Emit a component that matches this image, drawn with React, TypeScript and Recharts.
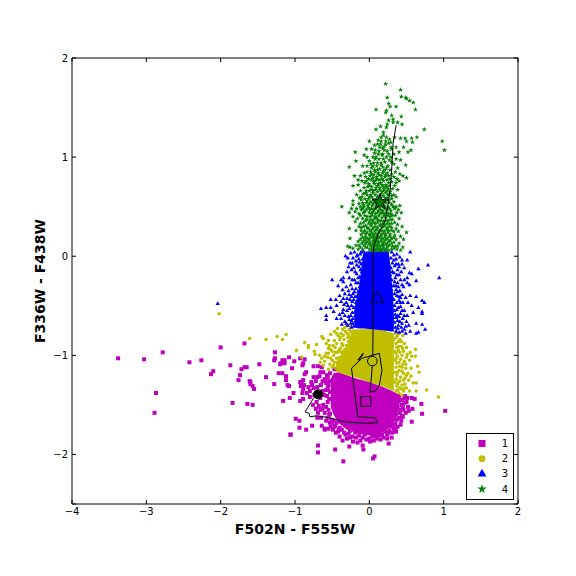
import { Area, ComposedChart, Legend, ReferenceArea, Scatter, Symbols, XAxis, YAxis } from "recharts";

const xTicks = [-4, -3, -2, -1, 0, 1, 2];
const yTicks = [-2.5, -2, -1, 0, 1, 2];

// scatter, [F502N-F555W, F336W-F438W]
const group1 = [
  [-3.38,-1.03],[-3.03,-1.04],[-2.78,-0.97],[-2.42,-1.07],[-2.26,-1.05],[-2.10,-1.16],[-2.13,-1.19],[-2.00,-0.92],[-2.87,-1.38],[-2.89,-1.58],
  [-1.87,-1.10],[-1.84,-1.48],[-1.68,-0.88],[-1.72,-1.14],[-1.68,-1.12],[-1.65,-1.12],[-1.74,-1.20],[-1.76,-1.25],[-1.61,-1.26],[-1.60,-1.27],
  [-1.60,-1.29],[-1.57,-1.31],[-1.55,-1.34],[-1.64,-1.49],[-1.57,-1.50],[-1.48,-1.09],[-1.39,-1.22],[-1.28,-1.05],[-1.27,-1.03],[-1.27,-0.97],
  [-1.20,-1.09],[-1.17,-1.05],[-1.14,-1.05],[-1.14,-1.08],[-1.08,-1.02],[-1.22,-1.18],[-1.17,-1.18],[-1.12,-1.21],[-1.12,-1.25],[-1.28,-1.29],
  [-1.10,-1.30],[-1.08,-1.31],[-1.16,-1.46],[-1.07,-1.43],[-1.06,-1.80],[-1.19,-1.08],[-1.02,-1.38],[-1.01,-1.06],[-0.93,-1.03],[-0.87,-1.04],
  [-0.89,-1.08],[-0.90,-1.10],[-0.75,-1.11],[-1.04,-1.13],[-0.85,-1.17],[-0.87,-1.19],[-0.93,-1.27],[-0.91,-1.27],[-0.89,-1.25],[-0.88,-1.30],
  [-0.92,-1.31],[-0.89,-1.34],[-0.90,-1.38],[-0.89,-1.44],[-0.93,-1.46],[-0.82,-1.32],[-0.78,-1.27],[-0.75,-1.22],[-0.77,-1.30],[-0.70,-1.22],
  [-0.66,-1.17],[-0.62,-1.17],[-0.64,-1.12],[-0.69,-1.11],[-0.99,-1.64],[-0.94,-1.66],[-0.94,-1.73],[-0.85,-1.75],[-1.06,-1.80],[-0.77,-1.71],
  [-0.70,-1.63],[-0.64,-1.71],[-0.60,-1.74],[-0.60,-1.75],[-0.55,-1.74],[-0.52,-1.72],[-0.47,-1.72],[-0.69,-1.91],[-0.69,-1.98],[-0.46,-1.95],
  [-0.35,-2.07],[-0.27,-1.92],[-0.09,-1.91],[-0.08,-1.95],[0.07,-2.02],[0.05,-2.04],[0.26,-1.89],[0.36,-1.77],[0.31,-1.78],[0.24,-1.80],
  [0.17,-1.80],[0.57,-1.67],[0.71,-1.59],[0.70,-1.49],[0.58,-1.54],[0.45,-1.52],[0.46,-1.55],[0.41,-1.58],[0.38,-1.72],[0.51,-1.43],
  [0.57,-1.43],[0.61,-1.44],[1.02,-1.56],[-0.68,-1.51],[-0.66,-1.55],[-0.62,-1.50],[-0.72,-1.54],[-0.60,-1.58],[-0.56,-1.47],[-0.58,-1.35],
  [-0.55,-1.30],[-0.61,-1.40],[-0.65,-1.30],[-0.60,-1.24],[-0.56,-1.22],[-0.70,-1.32],[-0.74,-1.40],[-0.80,-1.42],[-0.54,-1.60],[-0.51,-1.65],
  [-0.45,-1.78],[-0.40,-1.82],[-0.36,-1.86],[-0.42,-1.77],[-0.30,-1.84],[-0.22,-1.87],[-0.18,-1.83],[-0.12,-1.86],[-0.04,-1.85],[0.01,-1.87],
  [0.06,-1.86],[0.10,-1.84],[-0.28,-1.79],[0.43,-1.66],[0.44,-1.61],[0.40,-1.46],[0.47,-1.43],[0.39,-1.41],[0.42,-1.70],[0.33,-1.74],
  [0.50,-1.47],[0.53,-1.56],[-0.53,-1.18],[-0.47,-1.14],[-0.58,-1.28],[-0.50,-1.68],[-0.44,-1.68],
  [-0.57,-1.20],[-0.59,-1.26],[-0.54,-1.26],[-0.56,-1.33],[-0.53,-1.37],[-0.57,-1.41],[-0.54,-1.44],[-0.58,-1.52],[-0.55,-1.55],[-0.56,-1.63],
  [-0.53,-1.59],[-0.63,-1.26],[-0.67,-1.21],[-0.63,-1.36],[-0.66,-1.43],[-0.63,-1.54],[-0.71,-1.47],[-0.75,-1.33],[-0.80,-1.36],[-0.72,-1.26],
  [-0.84,-1.38],[-0.76,-1.50],[-0.69,-1.58],[-0.65,-1.63],[-0.58,-1.66],[-0.53,-1.68],[-0.48,-1.66],[-0.46,-1.71],[-0.40,-1.73],[-0.37,-1.75],
  [-0.34,-1.78],[-0.26,-1.76],[-0.23,-1.82],[-0.19,-1.78],[-0.14,-1.81],[-0.09,-1.83],[-0.06,-1.80],[0.00,-1.84],[0.04,-1.82],[0.08,-1.81],
  [0.13,-1.81],[0.19,-1.83],[0.21,-1.77],[0.27,-1.76],[0.30,-1.72],[0.35,-1.69],[0.37,-1.65],[0.40,-1.63],[0.42,-1.55],[0.38,-1.53],
  [0.43,-1.50],[0.47,-1.48],[0.40,-1.43],[0.44,-1.45],[0.48,-1.41],[0.36,-1.60],[0.33,-1.70],[0.26,-1.78],[0.15,-1.85],[-0.16,-1.88],
  [-0.26,-1.83],[-0.32,-1.80],[-0.41,-1.75],[-0.49,-1.75],[0.24,-1.84],[0.30,-1.83],[0.35,-1.74],[0.49,-1.58],[0.45,-1.62],[0.52,-1.52],
];

const group2 = [
  [-2.02,-0.58],[-1.61,-0.83],[-1.39,-0.84],[-1.24,-0.81],[-1.17,-0.84],[-1.12,-0.79],[-0.87,-0.87],[-0.82,-0.90],[-0.82,-0.92],[-0.71,-0.89],
  [-0.98,-0.95],[-0.74,-0.96],[-0.73,-0.99],[-0.64,-0.81],[-0.62,-0.83],[-0.55,-0.85],[-0.54,-0.90],[-0.91,-1.02],[0.93,-1.42],[0.77,-1.35],
  [0.67,-1.17],[0.65,-1.11],[0.62,-0.94],[0.62,-1.01],[0.57,-1.01],[0.63,-1.28],[0.59,-1.28],[0.63,-1.36],[0.54,-1.36],[0.50,-1.33],
  [-0.67,-1.00],[-0.64,-1.03],[-0.60,-1.06],[-0.66,-1.07],[-0.58,-0.98],[-0.56,-1.02],[-0.53,-1.09],[-0.50,-1.12],[-0.55,-1.14],[-0.62,-1.10],
  [-0.48,-1.00],[-0.50,-0.96],[-0.46,-0.92],[-0.52,-0.94],[-0.44,-0.88],[-0.40,-0.84],[-0.47,-0.85],[-0.42,-0.80],[-0.38,-0.78],[-0.36,-0.74],
  [-0.43,-0.73],[-0.47,-0.76],[-0.33,-0.72],[-0.30,-0.78],[-0.34,-0.84],[-0.37,-0.88],[-0.41,-0.95],[-0.44,-1.03],[-0.42,-1.10],[-0.47,-1.07],
  [-0.39,-0.93],[-0.35,-0.96],[-0.30,-0.70],[-0.27,-0.74],[-0.29,-0.82],[-0.52,-0.79],[-0.58,-0.88],[-0.36,-0.90],[-0.40,-1.02],[-0.46,-0.97],
  [0.35,-0.78],[0.38,-0.80],[0.41,-0.84],[0.45,-0.80],[0.39,-0.86],[0.43,-0.91],[0.47,-0.88],[0.50,-0.92],[0.37,-0.92],[0.41,-0.97],
  [0.46,-0.96],[0.51,-0.99],[0.38,-1.01],[0.42,-1.04],[0.47,-1.06],[0.37,-1.08],[0.44,-1.12],[0.49,-1.13],[0.40,-1.15],[0.46,-1.18],
  [0.37,-1.20],[0.42,-1.22],[0.48,-1.23],[0.39,-1.27],[0.44,-1.30],[0.37,-1.31],[0.41,-1.33],[0.48,-1.29],[0.53,-1.25],[0.36,-1.36],
  [0.46,-1.36],[0.40,-1.38],[0.44,-1.40],[0.54,-1.05],[0.52,-1.18],[0.33,-0.84],[0.34,-0.96],[0.35,-1.05],[0.34,-1.17],[0.34,-1.27],
  [-0.25,-0.76],[-0.28,-0.86],[-0.31,-0.90],[-0.33,-0.94],[-0.30,-0.97],[-0.36,-1.00],[-0.33,-1.03],[-0.38,-1.05],[-0.36,-1.09],[-0.40,-1.12],
  [-0.45,-1.13],[-0.43,-1.07],[-0.48,-1.10],[-0.38,-0.97],[-0.32,-0.76],[-0.26,-0.82],[-0.43,-0.97],[-0.50,-1.05],[-0.55,-0.98],[-0.60,-1.01],
  [-0.52,-1.03],[-0.35,-0.80],[-0.39,-0.82],[-0.44,-0.78],[-0.49,-0.90],[-0.55,-0.93],[-0.25,-0.71],[-0.28,-0.79],
  [0.36,-0.82],[0.40,-0.78],[0.43,-0.86],[0.36,-0.88],[0.40,-0.91],[0.45,-0.93],[0.36,-0.98],[0.39,-0.95],[0.44,-1.00],[0.36,-1.03],
  [0.40,-1.07],[0.45,-1.09],[0.36,-1.12],[0.41,-1.11],[0.38,-1.17],[0.44,-1.16],[0.36,-1.24],[0.41,-1.26],[0.46,-1.25],[0.38,-1.29],
  [0.43,-1.34],[0.38,-1.35],[0.50,-1.02],[0.49,-1.09],[0.50,-1.20],[0.47,-1.33],[0.55,-0.97],[0.56,-1.13],[0.56,-1.21],
];

const group3 = [
  [-2.04,-0.48],[0.94,-0.22],[0.79,-0.09],[0.66,-0.13],[0.63,-0.25],[0.55,0.04],[0.44,-0.04],[0.44,-0.08],[0.51,-0.04],[0.54,-0.17],
  [0.57,-0.18],[0.51,-0.22],[0.51,-0.27],[0.46,-0.31],[0.54,-0.29],[0.71,-0.45],[0.74,-0.47],[0.71,-0.56],[0.71,-0.58],[0.66,-0.52],
  [0.63,-0.41],[0.59,-0.57],[0.63,-0.68],[0.71,-0.69],[0.75,-0.74],[0.66,-0.77],[0.63,-0.78],[-0.50,-0.24],[-0.32,0.00],[-0.30,-0.16],
  [-0.38,-0.24],[-0.35,-0.22],[-0.35,-0.26],[-0.40,-0.40],[-0.52,-0.44],[-0.65,-0.53],[-0.58,-0.52],[-0.52,-0.52],[-0.48,-0.56],[-0.58,-0.60],
  [-0.58,-0.64],[-0.40,-0.59],[-0.38,-0.63],[-0.36,-0.57],[-0.35,-0.43],[-0.38,-0.46],[-0.30,-0.43],[-0.34,-0.49],[-0.30,-0.55],[-0.28,-0.61],
  [-0.33,-0.66],[-0.25,-0.68],[-0.29,-0.70],[-0.37,-0.69],[-0.28,-0.35],[-0.25,-0.29],[-0.27,-0.22],[-0.24,-0.14],[-0.26,-0.07],[-0.22,-0.02],
  [-0.25,0.03],[-0.20,0.04],[-0.18,-0.05],[-0.21,-0.12],[-0.17,-0.18],[-0.20,-0.24],[-0.15,-0.27],[-0.18,-0.33],[-0.22,-0.38],[-0.16,-0.40],
  [-0.21,-0.44],[-0.24,-0.50],[-0.18,-0.47],[-0.14,-0.03],[-0.12,0.02],[-0.14,-0.11],[-0.10,-0.16],[-0.13,-0.21],[-0.09,-0.25],[-0.11,-0.08],
  [-0.16,-0.55],[-0.23,-0.57],[-0.26,-0.44],[-0.22,-0.63],[-0.12,-0.36],[-0.08,0.05],[-0.09,-0.19],
  [0.30,0.04],[0.33,0.01],[0.36,-0.03],[0.31,-0.07],[0.34,-0.10],[0.38,-0.14],[0.31,-0.16],[0.40,-0.19],[0.35,-0.22],[0.30,-0.24],
  [0.38,-0.27],[0.42,-0.24],[0.33,-0.30],[0.36,-0.34],[0.41,-0.35],[0.44,-0.39],[0.37,-0.40],[0.33,-0.44],[0.40,-0.45],[0.45,-0.47],
  [0.34,-0.50],[0.42,-0.51],[0.37,-0.54],[0.47,-0.55],[0.42,-0.58],[0.51,-0.60],[0.38,-0.60],[0.45,-0.63],[0.41,-0.66],[0.50,-0.66],
  [0.53,-0.70],[0.43,-0.72],[0.47,-0.74],[0.39,-0.70],[0.36,-0.62],[0.40,-0.77],[0.55,-0.76],[0.49,-0.78],[0.30,-0.30],[0.31,-0.38],
  [0.29,-0.46],[0.49,-0.42],[0.52,-0.47],[0.43,-0.16],[0.47,-0.12],[0.39,-0.08],[0.37,0.02],[0.41,-0.01],[0.57,-0.50],[0.55,-0.40],
  [-0.11,0.04],[-0.16,0.01],[-0.09,-0.03],[-0.13,-0.06],[-0.17,-0.09],[-0.08,-0.11],[-0.12,-0.14],[-0.07,-0.20],[-0.15,-0.22],[-0.11,-0.24],
  [-0.18,-0.27],[-0.07,-0.29],[-0.13,-0.31],[-0.20,-0.36],[-0.09,-0.33],[-0.15,-0.36],[-0.11,-0.40],[-0.24,-0.41],[-0.19,-0.41],[-0.14,-0.45],
  [-0.23,-0.46],[-0.16,-0.49],[-0.21,-0.52],[-0.27,-0.53],[-0.19,-0.56],[-0.25,-0.60],[-0.19,-0.60],[-0.24,-0.65],[-0.18,-0.66],[-0.27,-0.64],
  [-0.22,-0.68],[-0.24,-0.72],[-0.31,-0.68],[-0.21,-0.71],[-0.31,-0.47],[-0.29,-0.50],[-0.33,-0.38],[-0.27,-0.39],[-0.31,-0.31],[-0.23,-0.33],
  [-0.23,-0.24],[-0.28,-0.11],[-0.19,-0.16],[-0.23,-0.07],[-0.17,0.00],[-0.29,-0.02],[-0.36,-0.34],[-0.42,-0.30],[-0.44,-0.50],[-0.35,-0.54],
  [-0.44,-0.63],[-0.45,-0.44],[-0.33,-0.60],
  [0.29,-0.02],[0.27,-0.10],[0.33,-0.04],[0.29,-0.12],[0.36,-0.08],[0.28,-0.19],[0.33,-0.17],[0.37,-0.19],[0.28,-0.27],[0.34,-0.26],
  [0.39,-0.31],[0.30,-0.34],[0.36,-0.30],[0.34,-0.38],[0.40,-0.41],[0.31,-0.42],[0.37,-0.47],[0.30,-0.49],[0.42,-0.47],[0.34,-0.55],
  [0.39,-0.52],[0.31,-0.55],[0.44,-0.55],[0.35,-0.59],[0.32,-0.62],[0.40,-0.61],[0.47,-0.60],[0.38,-0.65],[0.34,-0.67],[0.44,-0.68],
  [0.38,-0.73],[0.44,-0.76],[0.35,-0.72],[0.49,-0.71],[0.36,-0.76],[0.42,-0.42],[0.38,-0.36],[0.44,-0.29],[0.47,-0.24],[0.40,-0.11],
];

const group4 = [
  [0.22,1.74],[0.42,1.68],[0.24,1.60],[0.43,1.61],[0.49,1.60],[0.50,1.59],[0.54,1.57],[0.59,1.55],[0.62,1.48],[0.26,1.54],
  [0.28,1.51],[0.36,1.51],[0.09,1.48],[0.23,1.47],[0.22,1.45],[0.30,1.42],[0.43,1.41],[0.26,1.37],[0.32,1.38],[0.32,1.35],[0.24,1.33],
  [0.38,1.35],[0.44,1.33],[0.74,1.28],[0.98,1.16],[1.01,1.07],[0.09,1.28],[0.15,1.31],[0.23,1.30],[0.19,1.25],[0.19,1.22],
  [0.23,1.20],[0.16,1.20],[0.27,1.18],[0.12,1.17],[0.34,1.20],[0.42,1.19],[0.48,1.19],[0.57,1.19],[0.64,1.20],[0.58,1.15],[0.50,1.16],
  [0.00,1.16],[0.16,1.16],[0.22,1.16],[0.29,1.15],[0.07,1.12],[0.22,1.13],[0.26,1.14],[0.14,1.10],[0.18,1.09],[0.29,1.10],[0.36,1.10],
  [0.46,1.10],[0.56,1.07],[0.52,1.05],[0.40,1.05],[-0.04,1.08],[0.03,1.08],[-0.19,1.05],[0.08,1.07],[0.13,1.06],[0.20,1.07],[0.30,1.08],
  [0.07,1.04],[0.26,1.03],[0.33,1.03],[0.12,1.03],[0.17,1.02],[-0.07,1.02],[-0.03,1.00],[0.09,1.00],[0.19,0.98],[0.29,1.00],[-0.18,0.96],
  [0.00,0.96],[0.08,0.98],[0.13,0.98],[0.21,0.95],[0.27,0.97],[0.36,0.98],[0.42,0.97],[0.49,0.92],[0.06,0.94],[0.11,0.94],[0.16,0.94],
  [-0.27,0.90],[0.10,0.91],[0.18,0.90],[0.25,0.91],[0.33,0.93],[0.38,0.89],[0.03,0.89],[0.14,0.88],[0.21,0.87],[0.28,0.87],[-0.07,0.84],
  [-0.03,0.85],[0.02,0.85],[0.08,0.85],[0.12,0.84],[0.18,0.84],[0.24,0.84],[0.35,0.85],[0.45,0.81],[0.50,0.79],[0.41,0.83],
  [-0.20,0.81],[-0.12,0.81],[-0.05,0.80],[0.01,0.81],[0.06,0.82],[0.10,0.80],[0.16,0.81],[0.21,0.80],[0.26,0.81],[0.33,0.80],[0.37,0.78],
  [-0.10,0.76],[-0.04,0.76],[0.03,0.77],[0.08,0.76],[0.13,0.77],[0.19,0.76],[0.24,0.77],[0.30,0.75],[0.40,0.76],[0.07,0.73],[-0.01,0.73],
  [-0.22,0.71],[-0.15,0.72],[0.12,0.73],[0.17,0.72],[0.22,0.72],[0.27,0.71],[0.34,0.71],[0.03,0.70],[-0.07,0.69],[-0.02,0.70],[0.09,0.69],
  [0.14,0.69],[0.20,0.68],[0.25,0.68],[0.31,0.68],[0.38,0.67],[-0.12,0.66],[0.00,0.66],[0.05,0.66],[0.11,0.65],[0.17,0.65],[0.22,0.64],
  [-0.17,0.62],[-0.08,0.63],[-0.03,0.62],[0.02,0.62],[0.08,0.62],[0.14,0.61],[0.19,0.61],[0.27,0.63],[0.33,0.62],[0.36,0.60],[-0.06,0.58],
  [-0.01,0.58],[0.05,0.58],[0.10,0.58],[0.16,0.57],[0.24,0.59],[0.30,0.58],[-0.22,0.56],[-0.11,0.57],[-0.14,0.53],[-0.09,0.54],[-0.04,0.54],
  [0.02,0.55],[0.07,0.54],[0.12,0.54],[0.22,0.54],[0.27,0.54],[0.33,0.55],[-0.22,0.52],[-0.07,0.50],[-0.02,0.51],[0.04,0.51],[0.09,0.50],
  [0.14,0.49],[0.25,0.50],[0.30,0.52],[0.36,0.50],[0.41,0.51],[-0.37,0.50],[-0.24,0.48],[-0.19,0.45],[-0.11,0.47],[-0.04,0.47],[0.01,0.47],
  [0.06,0.47],[0.12,0.46],[0.18,0.46],[0.23,0.47],[0.29,0.46],[0.34,0.48],[0.39,0.47],[-0.27,0.44],[-0.14,0.43],[-0.08,0.44],[0.03,0.43],
  [0.08,0.43],[0.15,0.43],[0.20,0.43],[0.26,0.43],[0.37,0.44],[0.43,0.44],[-0.22,0.40],[-0.03,0.40],[0.01,0.40],[0.10,0.39],[0.17,0.39],
  [0.22,0.39],[0.28,0.40],[0.35,0.41],[-0.16,0.38],[-0.09,0.38],[-0.05,0.36],[0.05,0.36],[0.13,0.36],[0.19,0.35],[0.25,0.36],[0.31,0.37],
  [0.40,0.38],[-0.19,0.35],[-0.12,0.33],[-0.01,0.33],[0.03,0.33],[0.08,0.33],[0.15,0.32],[0.21,0.32],[0.27,0.33],[0.34,0.34],[0.38,0.32],
  [-0.14,0.30],[-0.08,0.30],[-0.03,0.29],[0.05,0.29],[0.11,0.29],[0.17,0.29],[0.24,0.29],[0.30,0.29],[0.36,0.28],[0.44,0.30],[-0.27,0.28],
  [-0.18,0.26],[-0.11,0.26],[-0.06,0.26],[0.01,0.26],[0.08,0.26],[0.14,0.26],[0.20,0.25],[0.26,0.26],[0.33,0.25],[0.39,0.25],[0.50,0.24],
  [-0.11,0.22],[-0.05,0.22],[0.00,0.22],[0.05,0.22],[0.11,0.22],[0.16,0.22],[0.22,0.22],[0.28,0.22],[0.34,0.21],[0.42,0.20],[-0.26,0.18],
  [-0.09,0.19],[-0.02,0.18],[0.03,0.19],[0.08,0.18],[0.13,0.19],[0.18,0.18],[0.24,0.18],[0.30,0.18],[0.36,0.17],[0.46,0.17],[-0.15,0.15],
  [-0.08,0.15],[-0.03,0.15],[0.05,0.15],[0.10,0.15],[0.15,0.15],[0.20,0.15],[0.26,0.15],[0.33,0.14],[0.40,0.13],[-0.29,0.10],[-0.26,0.09],
  [-0.22,0.08],[-0.14,0.11],[-0.07,0.11],[-0.01,0.12],[0.04,0.12],[0.08,0.11],[0.12,0.12],[0.17,0.11],[0.22,0.12],[0.27,0.11],[0.35,0.10],
  [0.45,0.09],[-0.03,0.09],[0.03,0.09],[0.07,0.08],[0.11,0.09],[0.15,0.08],[0.19,0.09],[0.23,0.08],[0.30,0.07],[0.37,0.07],[0.42,0.06],
  [-0.15,0.07],[0.05,0.07],[0.09,0.06],[0.13,0.06],[0.17,0.06],[0.21,0.06],[0.26,0.06],[0.03,0.06],[-0.09,0.07],
  [0.11,0.87],[0.16,0.92],[0.05,0.91],[0.19,0.86],[0.07,0.87],[0.23,0.89],[0.13,0.82],[0.03,0.83],[0.17,0.78],[0.05,0.79],[0.22,0.82],
  [-0.01,0.78],[0.10,0.78],[0.15,0.74],[0.26,0.74],[0.06,0.75],[0.01,0.71],[-0.06,0.74],[0.19,0.70],[0.23,0.70],[0.11,0.71],[0.28,0.78],
  [-0.04,0.66],[0.03,0.67],[0.08,0.67],[0.14,0.67],[0.19,0.66],[0.24,0.66],[0.28,0.65],[-0.10,0.60],[-0.05,0.64],[0.00,0.60],[0.05,0.64],
  [0.11,0.60],[0.16,0.63],[0.21,0.59],[0.25,0.62],[0.30,0.61],[-0.13,0.59],[-0.03,0.56],[0.03,0.60],[0.08,0.56],[0.13,0.57],[0.18,0.55],
  [0.26,0.57],[-0.08,0.52],[-0.12,0.50],[0.00,0.53],[0.05,0.53],[0.10,0.52],[0.20,0.51],[0.27,0.48],[0.32,0.50],[-0.17,0.48],[-0.09,0.48],
  [-0.01,0.49],[0.03,0.48],[0.08,0.48],[0.15,0.47],[0.21,0.49],[-0.06,0.45],[0.00,0.44],[0.05,0.45],[0.11,0.44],[0.17,0.44],[0.23,0.44],
  [0.29,0.43],[-0.12,0.41],[-0.06,0.41],[0.04,0.41],[0.08,0.40],[0.13,0.41],[0.20,0.41],[0.25,0.41],[0.31,0.41],[-0.03,0.37],[0.02,0.37],
  [0.07,0.38],[0.11,0.37],[0.16,0.36],[0.22,0.36],[0.28,0.37],[-0.08,0.34],[0.00,0.35],[0.06,0.34],[0.11,0.34],[0.18,0.33],[0.24,0.33],
  [0.30,0.33],[-0.05,0.31],[0.02,0.31],[0.08,0.30],[0.14,0.31],[0.20,0.30],[0.27,0.30],[-0.11,0.29],[-0.01,0.28],[0.04,0.27],[0.10,0.27],
  [0.17,0.26],[0.23,0.27],[0.30,0.26],[-0.08,0.24],[-0.03,0.24],[0.03,0.24],[0.08,0.23],[0.13,0.24],[0.19,0.23],[0.25,0.24],[-0.05,0.19],
  [0.01,0.21],[0.06,0.20],[0.10,0.20],[0.15,0.20],[0.21,0.20],[0.27,0.20],[0.33,0.19],[-0.12,0.17],[-0.06,0.17],[0.00,0.17],[0.06,0.17],
  [0.11,0.17],[0.16,0.17],[0.22,0.17],[0.28,0.16],[-0.10,0.13],[-0.05,0.13],[0.01,0.14],[0.07,0.14],[0.12,0.14],[0.18,0.13],[0.24,0.13],
  [0.30,0.13],[0.02,0.11],[0.06,0.10],[0.10,0.11],[0.14,0.10],[0.19,0.11],[0.25,0.10],[0.31,0.10],[-0.05,0.09],[0.00,0.07],[0.07,0.06],
  [0.11,0.07],[0.15,0.06],[0.19,0.07],[0.23,0.06],[-0.12,0.09],[0.38,0.10],[0.33,0.08],[-0.18,0.11],[0.18,1.03],[0.24,1.06],[0.11,1.13],
  [0.20,1.11],[0.15,1.13],[0.05,1.00],[0.23,1.00],[0.02,0.93],[0.30,0.95],[-0.09,0.91],[-0.03,0.91],[0.30,0.83],[-0.15,0.77],[0.36,0.74],
];

// solid parts of each cloud, [x, lower, upper]
const core1 = [
  [-0.52,-1.52,-1.24],[-0.48,-1.60,-1.18],[-0.42,-1.68,-1.17],[-0.30,-1.75,-1.20],[-0.15,-1.79,-1.24],[0,-1.81,-1.27],
  [0.15,-1.79,-1.31],[0.28,-1.73,-1.35],[0.36,-1.64,-1.38],[0.40,-1.52,-1.40],
];
const core2 = [
  [-0.45,-1.16,-1.07],[-0.38,-1.18,-1.00],[-0.30,-1.20,-0.90],[-0.23,-1.21,-0.74],[0,-1.27,-0.735],[0.2,-1.32,-0.75],[0.33,-1.36,-0.78],
];
const core3 = [
  [-0.20,-0.72,-0.52],[-0.14,-0.73,-0.32],[-0.08,-0.73,0.04],[0,-0.735,0.05],[0.26,-0.755,0.05],[0.29,-0.76,-0.15],[0.33,-0.76,-0.55],
];

const track = [
  [0.36,1.32],[0.32,1.14],[0.30,0.87],[0.28,0.67],[0.24,0.47],[0.21,0.35],[0.12,0.23],[0.06,0.10],[0.045,-0.04],[0.05,-0.75],[0.045,-1.06],
  [0.01,-1.37],[0.08,-1.36],[0.135,-1.30],[0.17,-1.15],[0.135,-0.98],[-0.10,-1.03],[-0.24,-1.13],[-0.155,-1.62],[0.08,-1.63],[0.11,-1.68],
  [-0.08,-1.685],[-0.35,-1.67],[-0.53,-1.63],[-0.71,-1.61],[-0.80,-1.62],[-0.81,-1.585],[-0.865,-1.57],[-0.75,-1.43],[-0.69,-1.39],
];
const trackHook = [[-0.15,-1.05],[-0.08,-0.98]];

const star4 = [[0.144,0.544]];
const tri3 = [[0.108,-0.426]];
const circle2 = [[0.04,-1.058]];
const square1 = [[-0.048,-1.465]];
const dot = [[-0.69,-1.393]];

const pts = (a: number[][]) => a.map(([x, y]) => ({ x, y }));
const band = (a: number[][]) => a.map(([x, lo, hi]) => ({ x, core: [lo, hi] }));

const colors: Record<string, string> = { "1": "#bf00bf", "2": "#bfbf00", "3": "#0000ff", "4": "#008000" };
const legendSymbols: Record<string, [any, number]> = {
  "1": ["square", 49],
  "2": ["circle", 36],
  "3": ["triangle", 34],
  "4": ["star", 26],
};

const FONT = "DejaVu Sans";
const fmt = (v: number) => String(v).replace("-", "\u2212");

function XTick({ x, payload }: any) {
  return (
    <g>
      <line x1={x} x2={x} y1={504} y2={500} stroke="#000" />
      <line x1={x} x2={x} y1={58} y2={62} stroke="#000" />
      <text x={x} y={515} textAnchor="middle" fontSize={10} fontFamily={FONT} fill="#000">
        {fmt(payload.value)}
      </text>
    </g>
  );
}

function YTick({ y, payload }: any) {
  return (
    <g>
      <line x1={72} x2={76} y1={y} y2={y} stroke="#000" />
      <line x1={518} x2={514} y1={y} y2={y} stroke="#000" />
      {payload.value !== -2.5 && (
        <text x={68} y={y + 3.5} textAnchor="end" fontSize={10} fontFamily={FONT} fill="#000">
          {fmt(payload.value)}
        </text>
      )}
    </g>
  );
}

function LegendBox({ payload }: any) {
  const items = (payload || []).filter((p: any) => colors[p.value]);
  return (
    <svg width={48} height={67} style={{ display: "block" }}>
      <rect x={0.5} y={0.5} width={47} height={66} fill="#fff" stroke="#000" />
      {items.map((p: any, i: number) => (
        <g key={p.value}>
          <Symbols cx={16} cy={10.5 + i * 15.2} size={legendSymbols[p.value][1]} type={legendSymbols[p.value][0]} fill={colors[p.value]} />
          <text x={39} y={14 + i * 15.2} textAnchor="middle" fontSize={10} fontFamily={FONT} fill="#000">
            {p.value}
          </text>
        </g>
      ))}
    </svg>
  );
}

const big = (type: any, size: number, fill: string) => (p: any) =>
  <Symbols cx={p.cx} cy={p.cy} size={size} type={type} fill={fill} stroke="#000" strokeWidth={1} />;
const small = (type: any, size: number, fill: string) => (p: any) =>
  <Symbols cx={p.cx} cy={p.cy} size={size} type={type} fill={fill} />;
const noMark = () => <g />;

export default function App() {
  return (
    <div style={{ position: "absolute", left: 0, top: 0, width: 576, height: 576, background: "#fff" }}>
      <ComposedChart width={576} height={576} margin={{ top: 58, right: 58, bottom: 42, left: 42 }}>
        <XAxis
          type="number"
          dataKey="x"
          domain={[-4, 2]}
          ticks={xTicks}
          allowDataOverflow
          height={30}
          interval={0}
          tickLine={false}
          axisLine={false}
          tick={<XTick />}
          label={{ value: "F502N - F555W", position: "bottom", offset: 0, dy: -10, fontSize: 14, fontWeight: 700, fontFamily: FONT, fill: "#000" }}
        />
        <YAxis
          type="number"
          dataKey="y"
          domain={[-2.5, 2]}
          ticks={yTicks}
          allowDataOverflow
          width={30}
          interval={0}
          tickLine={false}
          axisLine={false}
          tick={<YTick />}
          label={{ value: "F336W - F438W", angle: -90, position: "left", offset: 0, dx: -2, textAnchor: "middle", fontSize: 14, fontWeight: 700, fontFamily: FONT, fill: "#000" }}
        />
        <Area data={band(core1)} dataKey="core" stroke="none" fill={colors["1"]} fillOpacity={1} isAnimationActive={false} legendType="none" dot={false} activeDot={false} />
        <Area data={band(core2)} dataKey="core" stroke="none" fill={colors["2"]} fillOpacity={1} isAnimationActive={false} legendType="none" dot={false} activeDot={false} />
        <Area data={band(core3)} dataKey="core" stroke="none" fill={colors["3"]} fillOpacity={1} isAnimationActive={false} legendType="none" dot={false} activeDot={false} />
        <Scatter name="1" data={pts(group1)} fill={colors["1"]} shape={small("square", 16, colors["1"])} isAnimationActive={false} />
        <Scatter name="2" data={pts(group2)} fill={colors["2"]} shape={small("circle", 10, colors["2"])} isAnimationActive={false} />
        <Scatter name="3" data={pts(group3)} fill={colors["3"]} shape={small("triangle", 8, colors["3"])} isAnimationActive={false} />
        <Scatter name="4" data={pts(group4)} fill={colors["4"]} shape={small("star", 8, colors["4"])} isAnimationActive={false} />
        <Scatter data={pts(track)} line={{ stroke: "#000", strokeWidth: 1 }} lineType="joint" shape={noMark} legendType="none" isAnimationActive={false} />
        <Scatter data={pts(trackHook)} line={{ stroke: "#000", strokeWidth: 1.5 }} lineType="joint" shape={noMark} legendType="none" isAnimationActive={false} />
        <Scatter data={pts(star4)} shape={big("star", 80, colors["4"])} legendType="none" isAnimationActive={false} />
        <Scatter data={pts(tri3)} shape={big("triangle", 70, colors["3"])} legendType="none" isAnimationActive={false} />
        <Scatter data={pts(circle2)} shape={big("circle", 72, colors["2"])} legendType="none" isAnimationActive={false} />
        <Scatter data={pts(square1)} shape={big("square", 100, colors["1"])} legendType="none" isAnimationActive={false} />
        <Scatter data={pts(dot)} shape={big("circle", 64, "#000")} legendType="none" isAnimationActive={false} />
        <ReferenceArea x1={-4} x2={2} y1={-2.5} y2={2} fill="none" stroke="#000" strokeWidth={1} ifOverflow="visible" />
        <Legend layout="horizontal" align="center" verticalAlign="middle" content={<LegendBox />} wrapperStyle={{ left: 466, top: 433, width: 48, height: 67, bottom: "auto" }} />
      </ComposedChart>
    </div>
  );
}
